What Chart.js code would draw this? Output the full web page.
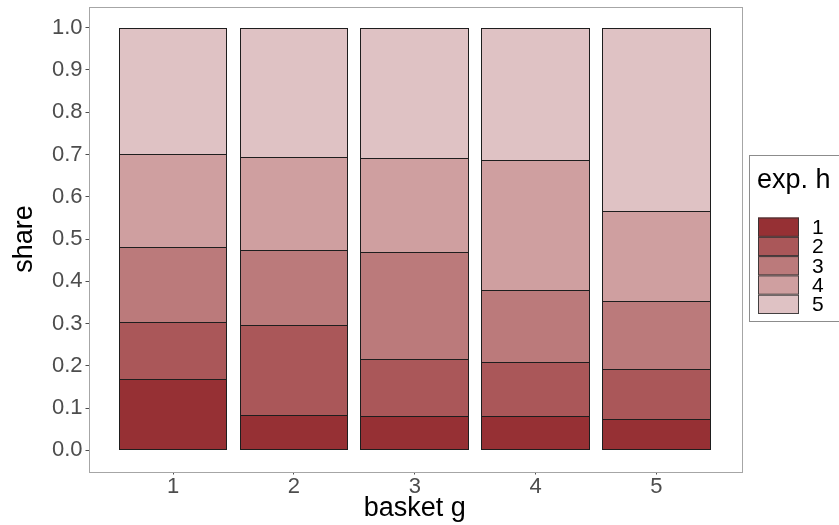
<!DOCTYPE html>
<html>
<head>
<meta charset="utf-8">
<script src="https://cdn.jsdelivr.net/npm/chart.js@4/dist/chart.umd.min.js"></script>
<style>
  html, body { margin: 0; padding: 0; background: #fff; }
  #wrap { width: 839px; height: 525px; }
</style>
</head>
<body>
<div id="wrap"><canvas id="chart" width="839" height="525"></canvas></div>
<script>
// baskets on the x axis
const baskets = [1, 2, 3, 4, 5];
const levels = ['1', '2', '3', '4', '5'];
const yTicks = [0, 0.1, 0.2, 0.3, 0.4, 0.5, 0.6, 0.7, 0.8, 0.9, 1.0];

// share of each exp. h level, per basket
const level1 = [0.166, 0.082, 0.080, 0.078, 0.071];
const level2 = [0.135, 0.213, 0.133, 0.128, 0.119];
const level3 = [0.177, 0.176, 0.254, 0.172, 0.160];
const level4 = [0.221, 0.221, 0.222, 0.306, 0.214];
const level5 = [0.301, 0.308, 0.311, 0.316, 0.436];

const colors = ['#963034', '#AA5759', '#BB7A7B', '#CF9FA0', '#DFC2C4'];
const series = [level1, level2, level3, level4, level5];

const font = "'Liberation Sans', Arial, sans-serif";

const datasets = series.map((vals, i) => ({
  label: levels[i],
  data: vals.map((v, j) => ({ x: baskets[j], y: v })),
  backgroundColor: colors[i],
  borderColor: '#1E1E1E',
  // segments are drawn bottom-up, so each one draws its bottom edge
  borderWidth: { top: i === series.length - 1 ? 1 : 0, left: 1, right: 1, bottom: 1 },
  borderSkipped: false,
  inflateAmount: 0,
  barPercentage: 0.9,
  categoryPercentage: 1.0
}));

// snap bar edges to whole pixels so the seams between segments stay crisp
const snapBars = {
  id: 'snapBars',
  beforeDatasetsDraw(chart) {
    chart.data.datasets.forEach((ds, i) => {
      chart.getDatasetMeta(i).data.forEach(el => {
        const l = Math.round(el.x - el.width / 2);
        const r = Math.round(el.x + el.width / 2);
        el.x = (l + r) / 2;
        el.width = r - l;
        el.y = Math.round(el.y);
        el.base = Math.round(el.base);
      });
    });
  }
};

// panel border + legend on the right
const panelAndLegend = {
  id: 'panelAndLegend',
  afterDraw(chart) {
    const c = chart.ctx;
    const a = chart.chartArea;
    c.save();
    c.strokeStyle = '#A6A6A6';
    c.lineWidth = 1;
    c.strokeRect(Math.round(a.left) + 0.5, Math.round(a.top) + 0.5,
      Math.round(a.right - a.left), Math.round(a.bottom - a.top));

    // legend box
    c.strokeStyle = '#8C8C8C';
    c.strokeRect(749.5, 155.5, 110, 166);
    c.fillStyle = '#000';
    c.font = '27px ' + font;
    c.textBaseline = 'middle';
    c.textAlign = 'left';
    c.fillText('exp. h', 757, 181);
    const keyH = 19.3;
    c.font = '21px ' + font;
    levels.forEach((lab, i) => {
      const y = 217.5 + i * keyH;
      c.fillStyle = colors[i];
      c.fillRect(758, y, 41, keyH);
      c.strokeStyle = 'rgba(50,50,50,0.9)';
      c.strokeRect(758.5, y + 0.5, 40, keyH - 1);
      c.fillStyle = '#000';
      c.fillText(lab, 812, y + keyH / 2 + 1);
    });
    c.restore();
  }
};

new Chart(document.getElementById('chart'), {
  type: 'bar',
  data: { datasets: datasets },
  options: {
    responsive: false,
    animation: false,
    layout: { autoPadding: false, padding: { top: 6.5, right: 98, left: 0, bottom: 0 } },
    plugins: {
      legend: { display: false },
      tooltip: { enabled: false }
    },
    scales: {
      x: {
        type: 'linear',
        stacked: true,
        offset: false,
        min: 0.3,
        max: 5.7,
        afterBuildTicks: s => { s.ticks = baskets.map(v => ({ value: v })); },
        afterFit: s => { s.height = 53.5; s.paddingLeft = 0; s.paddingRight = 0; },
        grid: { offset: false, drawOnChartArea: false, tickLength: 3, tickColor: '#4D4D4D' },
        border: { display: false },
        ticks: {
          color: '#4D4D4D',
          font: { family: font, size: 22 },
          padding: -1,
          callback: v => String(v)
        },
        title: {
          display: true,
          text: 'basket g',
          color: '#000',
          font: { family: font, size: 27 },
          padding: { top: 0, bottom: 0 }
        }
      },
      y: {
        stacked: true,
        min: -0.05,
        max: 1.05,
        afterBuildTicks: s => { s.ticks = yTicks.map(v => ({ value: v })); },
        afterFit: s => { s.width = 88.5; s.paddingTop = 0; s.paddingBottom = 0; },
        grid: { drawOnChartArea: false, tickLength: 3, tickColor: '#4D4D4D' },
        border: { display: false },
        ticks: {
          color: '#4D4D4D',
          font: { family: font, size: 22 },
          padding: 3,
          callback: v => Number(v).toFixed(1)
        },
        title: {
          display: true,
          text: 'share',
          color: '#000',
          font: { family: font, size: 27 },
          padding: { top: 8, bottom: 0 }
        }
      }
    }
  },
  plugins: [snapBars, panelAndLegend]
});
</script>
</body>
</html>
